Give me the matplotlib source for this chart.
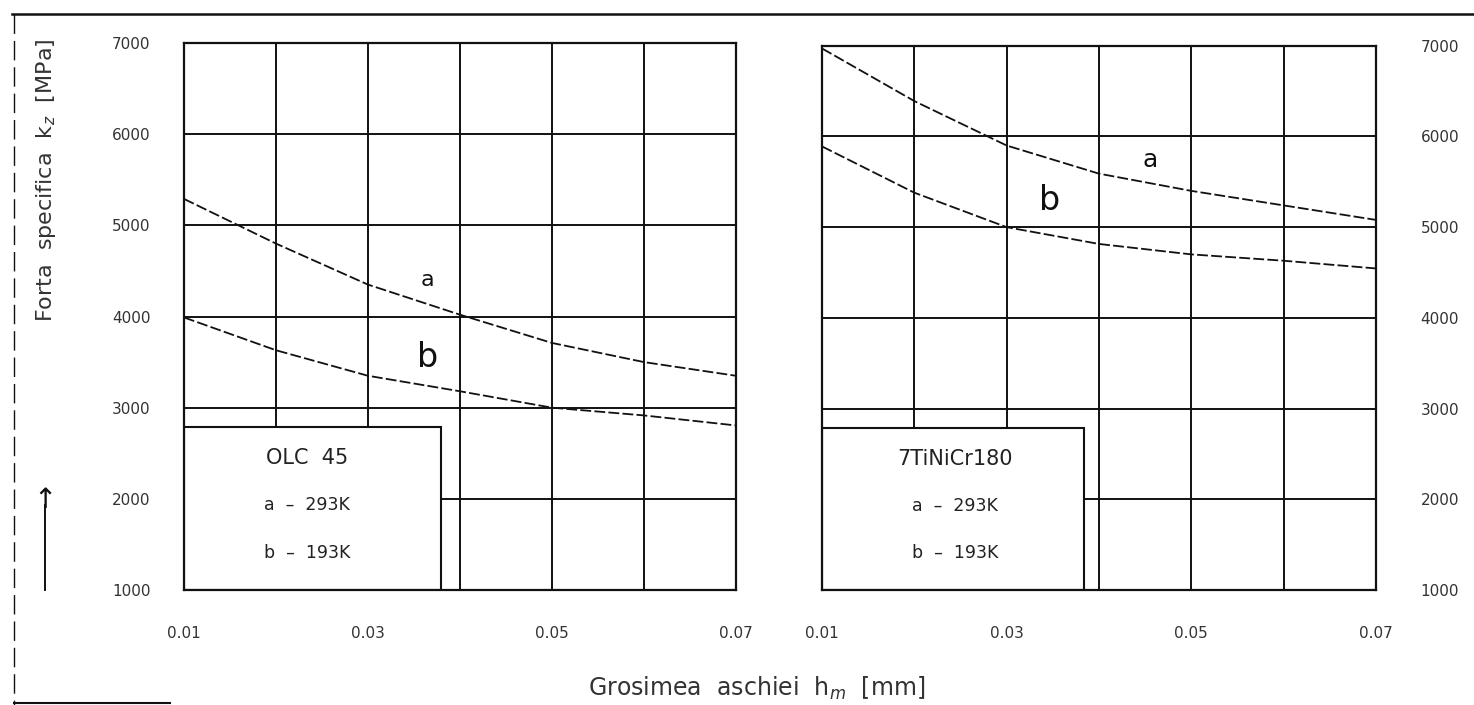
import matplotlib
matplotlib.use("Agg")
import matplotlib.pyplot as plt
from matplotlib.patches import Rectangle
from matplotlib.lines import Line2D

# chip thickness h_m [mm]
h = [0.01, 0.02, 0.03, 0.04, 0.05, 0.06, 0.07]

# specific cutting force k_z [MPa]
olc_a = [5290, 4800, 4350, 4020, 3710, 3500, 3350]   # OLC 45, 293K
olc_b = [3990, 3630, 3350, 3180, 3000, 2915, 2805]   # OLC 45, 193K
ti_a = [6970, 6390, 5900, 5590, 5400, 5240, 5080]    # 7TiNiCr180, 293K
ti_b = [5890, 5380, 5000, 4815, 4700, 4630, 4545]    # 7TiNiCr180, 193K

xticks = [0.01, 0.03, 0.05, 0.07]
xticklabels = ["0.01", "0.03", "0.05", "0.07"]
yticks = [1000, 2000, 3000, 4000, 5000, 6000, 7000]
materials = ["OLC  45", "7TiNiCr180"]
legend_rows = ["a  \u2013  293K", "b  \u2013  193K"]

plt.rcParams["font.family"] = ["DejaVu Sans"]
INK = "#111111"

fig = plt.figure(figsize=(14.74, 7.05), dpi=100)
ax_l = fig.add_axes([0.1248, 0.1631, 0.3745, 0.7759])
ax_r = fig.add_axes([0.5577, 0.1631, 0.3758, 0.7720])


def setup(ax, right=False):
    ax.set_xlim(0.01, 0.07)
    ax.set_ylim(1000, 7000)
    ax.set_xticks(xticks)
    ax.set_xticklabels(xticklabels)
    ax.set_xticks(h, minor=True)
    ax.set_yticks(yticks)
    ax.set_yticklabels([str(v) for v in yticks])
    ax.grid(True, which="both", axis="x", color=INK, lw=1.4)
    ax.grid(True, axis="y", color=INK, lw=1.4)
    ax.set_axisbelow(True)
    for s in ax.spines.values():
        s.set_linewidth(1.6)
        s.set_color(INK)
    ax.tick_params(axis="x", which="both", length=0, pad=26, labelsize=11, labelcolor="#333333")
    ax.tick_params(axis="y", length=0, labelsize=11, labelcolor="#333333",
                   pad=32 if right else 24)
    if right:
        ax.yaxis.tick_right()


setup(ax_l)
setup(ax_r, right=True)

dash = (0, (6, 1.8))
ax_l.plot(h, olc_a, color=INK, lw=1.3, ls=dash, zorder=3)
ax_l.plot(h, olc_b, color=INK, lw=1.3, ls=dash, zorder=3)
ax_r.plot(h, ti_a, color=INK, lw=1.3, ls=dash, zorder=3)
ax_r.plot(h, ti_b, color=INK, lw=1.3, ls=dash, zorder=3)

# curve labels
ax_l.text(0.0365, 4400, "a", fontsize=16, ha="center", va="center", color=INK)
ax_l.text(0.0365, 3550, "b", fontsize=24, ha="center", va="center", color=INK)
ax_r.text(0.0455, 5740, "a", fontsize=18, ha="center", va="center", color=INK)
ax_r.text(0.0347, 5290, "b", fontsize=24, ha="center", va="center", color=INK)

# material boxes in the lower-left corner of each panel
for ax, name, w, cx in [(ax_l, materials[0], 0.466, 0.223), (ax_r, materials[1], 0.473, 0.24)]:
    ax.add_patch(Rectangle((0, 0), w, 0.298, transform=ax.transAxes, facecolor="white",
                           edgecolor=INK, lw=1.5, zorder=2.5))
    ax.text(cx, 0.241, name, transform=ax.transAxes, fontsize=15, ha="center", va="center",
            color="#222222", zorder=4)
    ax.text(cx, 0.155, legend_rows[0], transform=ax.transAxes, fontsize=12.5, ha="center",
            va="center", color="#222222", zorder=4)
    ax.text(cx, 0.068, legend_rows[1], transform=ax.transAxes, fontsize=12.5, ha="center",
            va="center", color="#222222", zorder=4)

# axis titles
fig.text(0.031, 1 - 180 / 705, "Forta  specifica  k$_z$  [MPa]", rotation=90, fontsize=16,
         ha="center", va="center", color="#333333")
fig.add_artist(Line2D([45 / 1474, 45 / 1474], [1 - 590 / 705, 1 - 505 / 705], color=INK, lw=1.4))
fig.text(45 / 1474, 1 - 500 / 705, "\u2191", fontsize=20, ha="center", va="center", color=INK)
fig.text(757 / 1474, 1 - 688 / 705, "Grosimea  aschiei  h$_m$  [mm]", fontsize=17,
         ha="center", va="center", color="#333333")

# outer frame
fig.add_artist(Line2D([12 / 1474, 1.0], [1 - 14 / 705, 1 - 14 / 705], color=INK, lw=1.8))
fig.add_artist(Line2D([14 / 1474, 14 / 1474], [1 - 14 / 705, 0.0], color=INK, lw=1.0,
                      ls=(0, (14, 5))))
fig.add_artist(Line2D([14 / 1474, 170 / 1474], [2 / 705, 2 / 705], color=INK, lw=1.5))

fig.savefig("out.png", dpi=100)
